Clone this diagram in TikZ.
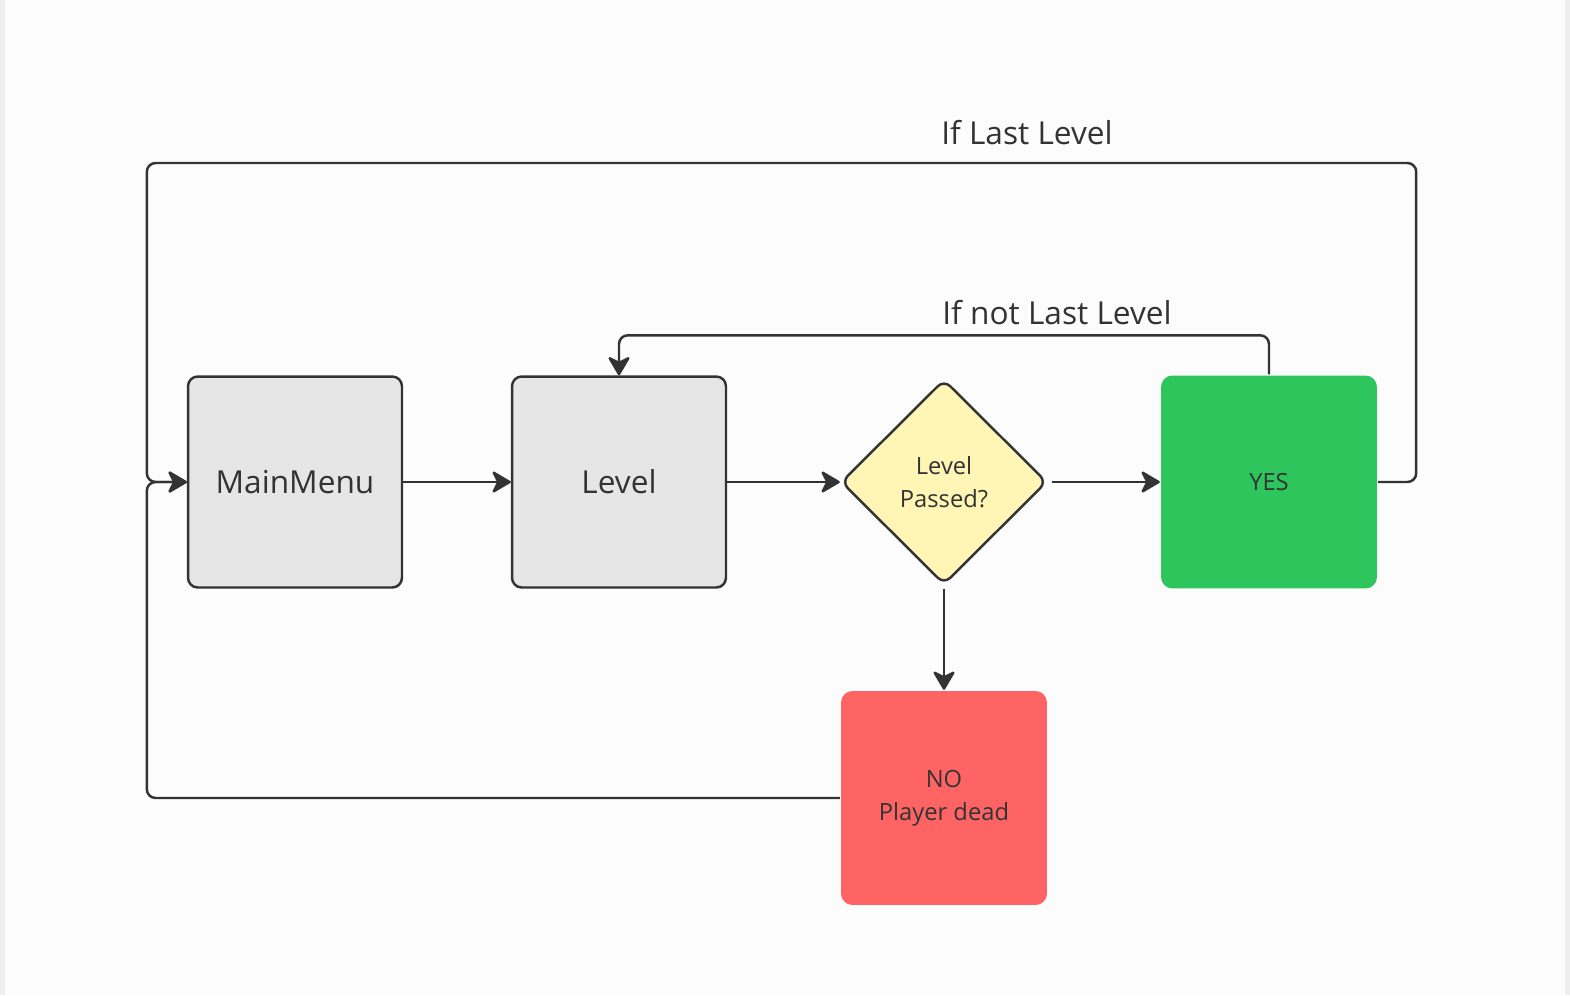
\documentclass[tikz,border=0pt]{standalone}
\usepackage{fontspec}
\setmainfont{Open Sans}
\usetikzlibrary{shapes.geometric,arrows.meta}

\definecolor{inkgray}{HTML}{333333}
\definecolor{boxgray}{HTML}{E6E6E6}
\definecolor{askyellow}{HTML}{FFF5B5}
\definecolor{yesgreen}{HTML}{2EC55C}
\definecolor{nored}{HTML}{FF6464}
\definecolor{pagegray}{HTML}{EEEEEE}

\newcommand{\bigtxt}{\fontsize{18}{22}\selectfont}
\newcommand{\smalltxt}{\fontsize{13.5}{18.7}\selectfont}

\begin{document}
\begin{tikzpicture}[x=0.02cm,y=-0.02cm,line width=1.4pt,draw=inkgray,text=inkgray,
	>={Stealth[length=12pt,width=14pt,inset=3.5pt,round]},
	statebox/.style={rectangle,rounded corners=5.5pt,draw,fill=boxgray,minimum width=4.28cm,minimum height=4.22cm,inner sep=0pt,font=\bigtxt},
	resultbox/.style={rectangle,rounded corners=6.5pt,inner sep=0pt,align=center,font=\smalltxt},
	askbox/.style={diamond,rounded corners=5pt,draw,fill=askyellow,minimum width=4.12cm,minimum height=4.1cm,inner sep=0pt,align=center,font=\smalltxt},
	flow/.style={->,rounded corners=5pt},
	looplabel/.style={font=\bigtxt}]
%
	\useasboundingbox (0,0) rectangle (1570,995);
	\fill[white!99!black] (0,0) rectangle (1570,995);
	\fill[pagegray] (0,0) rectangle (5,995);
	\fill[pagegray] (1565,0) rectangle (1570,995);
%
	\node[statebox] (mainmenu) at (295,482) {MainMenu};
	\node[statebox] (level) at (619,482) {Level};
	\node[askbox] (passed) at (944,482) {Level\\Passed?};
	\node[resultbox,fill=yesgreen,minimum width=4.32cm,minimum height=4.26cm] (yes) at (1269,482) {YES};
	\node[resultbox,fill=nored,minimum width=4.12cm,minimum height=4.28cm] (no) at (944,798) {NO\\Player dead};
%
	\draw[flow] (mainmenu) -- (level);
	\draw[flow] (level) -- (passed);
	\draw[flow] ([xshift=0.08cm]passed.east) -- (yes);
	\draw[flow] ([yshift=-0.06cm]passed.south) -- (no);
	\draw[flow] (yes.north) -- ++(0,-39) -| (level.north);
	\draw[flow] (yes.east) -| ++(38,-319) -| ([xshift=-0.8cm]mainmenu.west) -- (mainmenu.west);
	\draw[flow] (no.west) -| ([xshift=-0.8cm]mainmenu.west) -- (mainmenu.west);
%
	\node[looplabel] (lastlbl) at (1027,133) {If Last Level};
	\node[looplabel] (notlastlbl) at (1057,313) {If not Last Level};
\end{tikzpicture}
\end{document}
